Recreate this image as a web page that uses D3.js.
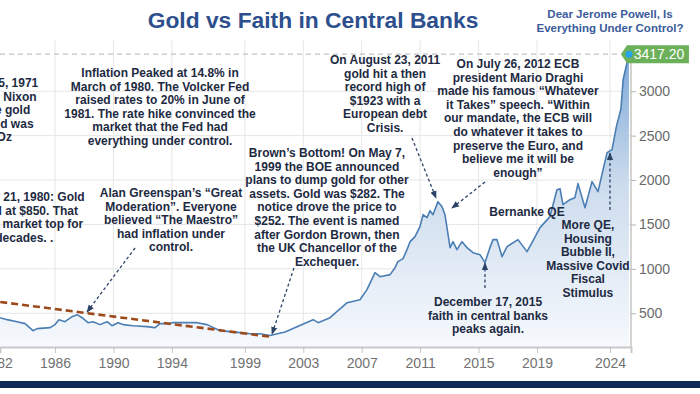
<!DOCTYPE html>
<html>
<head>
<meta charset="utf-8">
<script src="https://cdn.jsdelivr.net/npm/d3@7"></script>
<style>
  body { margin: 0; background: #fff; }
  svg { display: block; font-family: "Liberation Sans", Arial, sans-serif; }
</style>
</head>
<body>
<svg id="chart" width="700" height="394"></svg>
<script>
// gold price (decimal year, USD/oz)
var years = [1982.23, 1982.71, 1983.40, 1983.95, 1984.49, 1984.77, 1985.66, 1986.00, 1986.27, 1986.68,
  1987.16, 1987.51, 1987.85, 1988.26, 1988.60, 1989.08, 1989.56, 1989.90, 1990.31, 1990.66,
  1991.34, 1992.30, 1992.85, 1993.19, 1993.67, 1994.08, 1995.04, 1995.72, 1996.41, 1997.30,
  1997.98, 1998.67, 1999.35, 2000.04, 2000.72, 2001.75, 2002.57, 2003.67, 2004.01, 2004.83,
  2006.00, 2006.88, 2007.36, 2007.91, 2008.25, 2008.94, 2009.28, 2009.48, 2009.83, 2010.10,
  2010.31, 2010.65, 2010.99, 2011.20, 2011.47, 2011.68, 2011.88, 2012.22, 2012.50, 2012.70,
  2013.05, 2013.25, 2013.52, 2013.87, 2014.21, 2014.62, 2015.10, 2015.44, 2015.78, 2015.99,
  2016.26, 2016.61, 2016.95, 2017.70, 2018.32, 2018.66, 2019.21, 2019.89, 2020.37, 2020.58,
  2020.78, 2021.26, 2021.60, 2021.81, 2022.29, 2022.77, 2023.18, 2023.80, 2024.14, 2024.45,
  2024.75, 2024.90, 2025.30];
var prices = [450, 428, 405, 383, 304, 327, 338, 372, 428, 405,
  462, 484, 450, 394, 405, 372, 405, 360, 394, 372,
  360, 349, 338, 383, 383, 394, 394, 394, 372, 304,
  293, 282, 270, 270, 250, 290, 349, 428, 394, 450,
  619, 653, 766, 957, 912, 935, 1013, 1081, 1115, 1216,
  1306, 1363, 1475, 1610, 1577, 1655, 1610, 1757, 1700, 1610,
  1239, 1306, 1216, 1306, 1239, 1182, 1160, 1070, 1239, 1329,
  1329, 1137, 1250, 1329, 1194, 1295, 1464, 1588, 1892, 1903,
  1723, 1779, 1802, 1960, 1689, 1982, 1869, 2309, 2342, 2610,
  2800, 3130, 3417.20];
var lastPrice = 3417.20;

var xTicks = [1982, 1986, 1990, 1994, 1999, 2003, 2007, 2011, 2015, 2019, 2024];
var yTicks = [500, 1000, 1500, 2000, 2500, 3000];

// brown dashed downtrend
var trendYears = [1981.5, 2000.86];
var trendPrices = [643, 233];

// annotations: text anchor (year, price), arrow tail and head (year, price)
var noteLines = [
  ["August 15, 1971", "(Sunday) Nixon", "shut the gold", "then Gold was", "$35/Oz"],
  ["January 21, 1980: Gold", "peaked at $850. That", "was the market top for", "2 decades. ."],
  ["Inflation Peaked at 14.8% in", "March of 1980. The Volcker Fed", "raised rates to 20% in June of", "1981. The rate hike convinced the", "market that the Fed had", "everything under control."],
  ["Alan Greenspan\u2019s \u201cGreat", "Moderation\u201d. Everyone", "believed \u201cThe Maestro\u201d", "had inflation under", "control."],
  ["Brown\u2019s Bottom! On May 7,", "1999 the BOE announced", "plans to dump gold for other", "assets. Gold was $282. The", "notice drove the price to", "$252. The event is named", "after Gordon Brown, then", "the UK Chancellor of the", "Exchequer."],
  ["On August 23, 2011", "gold hit a then", "record high of", "$1923 with a", "European debt", "Crisis."],
  ["On July 26, 2012 ECB", "president Mario Draghi", "made his famous \u201cWhatever", "it Takes\u201d speech. \u201cWithin", "our mandate, the ECB will", "do whatever it takes to", "preserve the Euro, and", "believe me it will be", "enough\u201d"],
  ["Bernanke QE"],
  ["More QE,", "Housing", "Bubble II,", "Massive Covid", "Fiscal", "Stimulus"],
  ["December 17, 2015", "faith in central banks", "peaks again."]
];
var noteYears = [1981.72, 1983.55, 1993.19, 1993.94, 2004.62, 2008.60, 2017.70, 2018.32, 2022.49, 2015.65];
var notePrices = [3048, 1764, 3160, 1809, 2260, 3307, 3262, 1595, 1449, 582];

var arrowFrom = [[1991.48, 1235], [2002.36, 1010], [2010.44, 2474], [2015.44, 1978], [2024.0, 1663], [2015.44, 784]];
var arrowTo = [[1988.19, 514], [2000.86, 266], [2012.09, 1798], [2013.18, 1685], [2024.0, 2305], [2015.44, 1066]];

var svg = d3.select("#chart");
var W = 700, H = 394;
var plot = {left: 0, right: 631, top: 40, bottom: 347};

var x = d3.scaleLinear().domain([1982.23, 2025.44]).range([plot.left, plot.right]);
var y = d3.scaleLinear().domain([120, 3600]).range([plot.bottom, plot.bottom - 3480 * 0.0888]);

var series = years.map(function(d, i) { return {year: d, price: prices[i]}; });

var defs = svg.append("defs");
var grad = defs.append("linearGradient").attr("id", "areaFill")
  .attr("gradientUnits", "userSpaceOnUse")
  .attr("x1", 0).attr("x2", 0).attr("y1", y(lastPrice)).attr("y2", plot.bottom);
grad.append("stop").attr("offset", 0).attr("stop-color", "#7ea8d8");
grad.append("stop").attr("offset", 0.45).attr("stop-color", "#cddced");
grad.append("stop").attr("offset", 1).attr("stop-color", "#f6f9fd");

defs.append("marker").attr("id", "head")
  .attr("viewBox", "0 0 10 10").attr("refX", 9).attr("refY", 5)
  .attr("markerWidth", 6).attr("markerHeight", 6).attr("orient", "auto")
  .append("path").attr("d", "M0,1 L10,5 L0,9 Z").attr("fill", "#2c4267");

// grid
svg.append("g").selectAll("line").data(yTicks).enter().append("line")
  .attr("x1", plot.left).attr("x2", plot.right)
  .attr("y1", function(d) { return y(d); }).attr("y2", function(d) { return y(d); })
  .attr("stroke", "#e6e6e6").attr("stroke-width", 1);
svg.append("g").selectAll("line").data(xTicks).enter().append("line")
  .attr("x1", function(d) { return x(d); }).attr("x2", function(d) { return x(d); })
  .attr("y1", plot.top).attr("y2", plot.bottom)
  .attr("stroke", "#e6e6e6").attr("stroke-width", 1);

// area + line
svg.append("path").datum(series)
  .attr("fill", "url(#areaFill)")
  .attr("d", d3.area().x(function(d) { return x(d.year); }).y0(plot.bottom).y1(function(d) { return y(d.price); }));
svg.append("path").datum(series)
  .attr("fill", "none").attr("stroke", "#4a7eb4").attr("stroke-width", 1.6)
  .attr("stroke-linejoin", "round")
  .attr("d", d3.line().x(function(d) { return x(d.year); }).y(function(d) { return y(d.price); }));

// last price guide
svg.append("line")
  .attr("x1", plot.left).attr("x2", x(2025.3) - 6)
  .attr("y1", y(lastPrice)).attr("y2", y(lastPrice))
  .attr("stroke", "#c2c2c2").attr("stroke-width", 1.2).attr("stroke-dasharray", "5,4");

// trend line
svg.append("line")
  .attr("x1", x(trendYears[0])).attr("y1", y(trendPrices[0]))
  .attr("x2", x(trendYears[1])).attr("y2", y(trendPrices[1]))
  .attr("stroke", "#9c4a1c").attr("stroke-width", 2.6).attr("stroke-dasharray", "7,4");

// axes
var xAxis = svg.append("g").attr("transform", "translate(0," + plot.bottom + ")")
  .call(d3.axisBottom(x).tickValues(xTicks).tickFormat(d3.format("d")).tickSize(6).tickPadding(5));
xAxis.select(".domain").attr("stroke", "#c9c9c9").attr("stroke-width", 2);
xAxis.selectAll(".tick line").attr("stroke", "#c4c4c4");
xAxis.selectAll("text").attr("fill", "#727272").attr("font-size", 14).attr("font-family", "Liberation Sans, Arial, sans-serif");

var yAxis = svg.append("g").attr("transform", "translate(" + plot.right + ",0)")
  .call(d3.axisRight(y).tickValues(yTicks).tickFormat(d3.format("d")).tickSize(5).tickPadding(3));
yAxis.select(".domain").attr("d", "M0," + y(lastPrice) + "V" + plot.bottom).attr("stroke", "#c9c9c9").attr("stroke-width", 1.6);
yAxis.selectAll(".tick line").attr("stroke", "#b5b5b5");
yAxis.selectAll("text").attr("fill", "#6a6a6a").attr("font-size", 14).attr("font-family", "Liberation Sans, Arial, sans-serif");

// last price marker + label
var lx = x(2025.3), ly = y(lastPrice);
svg.append("path")
  .attr("d", "M" + (lx - 8) + "," + ly + "L" + (lx - 2) + "," + (ly - 9) + "H" + (lx + 60) + "V" + (ly + 9) + "H" + (lx - 2) + "Z")
  .attr("fill", "#6cb05a");
svg.append("text").attr("x", lx + 30).attr("y", ly + 5)
  .attr("text-anchor", "middle").attr("fill", "#fff").attr("font-size", 14)
  .text(d3.format(".2f")(lastPrice));
svg.append("circle").attr("cx", lx).attr("cy", ly).attr("r", 3.5).attr("fill", "#27a2ec");

// arrows
svg.append("g").selectAll("line").data(arrowFrom).enter().append("line")
  .attr("x1", function(d) { return x(d[0]); }).attr("y1", function(d) { return y(d[1]); })
  .attr("x2", function(d, i) { return x(arrowTo[i][0]); }).attr("y2", function(d, i) { return y(arrowTo[i][1]); })
  .attr("stroke", "#2c4267").attr("stroke-width", 1.3).attr("stroke-dasharray", "3,2.5")
  .attr("marker-end", "url(#head)");

// annotation text
var notes = svg.append("g").attr("font-size", 12).attr("font-weight", "bold")
  .attr("fill", "#1d2a42").attr("text-anchor", "middle");
noteLines.forEach(function(lines, i) {
  var t = notes.append("text").attr("x", x(noteYears[i])).attr("y", y(notePrices[i]));
  lines.forEach(function(s, j) {
    t.append("tspan").attr("x", x(noteYears[i])).attr("dy", j ? 13.6 : 0).text(s);
  });
});

// titles
svg.append("text").attr("x", 313).attr("y", 28).attr("text-anchor", "middle")
  .attr("font-size", 22.8).attr("font-weight", "bold").attr("fill", "#2d4f8d")
  .text("Gold vs Faith in Central Banks");
svg.append("text").attr("x", 610).attr("y", 18).attr("text-anchor", "middle")
  .attr("font-size", 11.5).attr("font-weight", "bold").attr("fill", "#3a5b9b")
  .text("Dear Jerome Powell, Is")
  .append("tspan").attr("x", 610).attr("dy", 13.5).text("Everything Under Control?");

// bottom band
svg.append("rect").attr("x", 0).attr("y", 381).attr("width", W).attr("height", 7).attr("fill", "#0c2b59");
</script>
</body>
</html>
